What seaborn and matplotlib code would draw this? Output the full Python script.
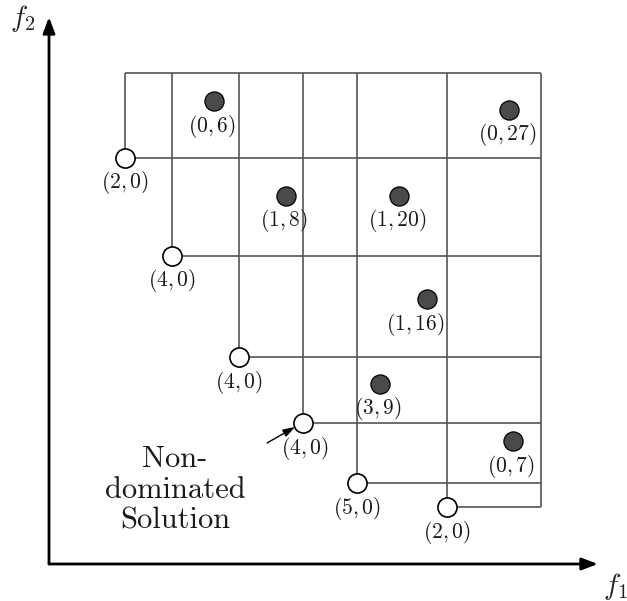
import matplotlib
matplotlib.use('Agg')
import matplotlib.pyplot as plt
import seaborn as sns
import pandas as pd

# Non-dominated solutions (open circles), positions in f1/f2 plot units
nd_f1 = [76, 123, 190, 254, 308, 398]
nd_f2 = [406, 308, 207, 141, 81, 57]
nd_labels = ['(2,0)', '(4,0)', '(4,0)', '(4,0)', '(5,0)', '(2,0)']

# Dominated solutions (filled circles)
d_f1 = [165, 237, 350, 460, 378, 331, 464]
d_f2 = [463, 368, 368, 454, 265, 180, 123]
d_labels = ['(0,6)', '(1,8)', '(1,20)', '(0,27)', '(1,16)', '(3,9)', '(0,7)']

# outer bounds of the dominance grid
grid_top = 491
grid_right = 492

sns.set_theme(style='white')
plt.rcParams['mathtext.fontset'] = 'cm'
plt.rcParams['font.family'] = ['cmr10', 'DejaVu Serif']
plt.rcParams['axes.unicode_minus'] = False

fig = plt.figure(figsize=(6.27, 6.01), dpi=100)
ax = fig.add_axes([0, 0, 1, 1])
ax.set_xlim(-49, 578)
ax.set_ylim(-37, 564)
ax.axis('off')

nd = pd.DataFrame({'f1': nd_f1, 'f2': nd_f2, 'label': nd_labels})
dom = pd.DataFrame({'f1': d_f1, 'f2': d_f2, 'label': d_labels})

grey = '#555555'
# dominance lines from each non-dominated point
ax.vlines(nd.f1, nd.f2, grid_top, color=grey, lw=1.2, zorder=1)
ax.hlines(nd.f2, nd.f1, grid_right, color=grey, lw=1.2, zorder=1)
ax.hlines(grid_top, nd.f1.iloc[0], grid_right, color=grey, lw=1.2, zorder=1)
ax.vlines(grid_right, nd.f2.iloc[-1], grid_top, color=grey, lw=1.2, zorder=1)

sns.scatterplot(data=nd, x='f1', y='f2', ax=ax, s=190, color='white',
                edgecolor='black', linewidth=1.2, zorder=3, legend=False)
sns.scatterplot(data=dom, x='f1', y='f2', ax=ax, s=190, color='#4a4a4a',
                edgecolor='black', linewidth=0.9, zorder=3, legend=False)

nudge = {4: -12}
for i, r in dom.iterrows():
    ax.text(r.f1 + nudge.get(i, -2), r.f2 - 25, '$' + r.label + '$',
            ha='center', va='center', fontsize=15.5, color='#1a1a1a')
for i, r in nd.iterrows():
    ax.text(r.f1 + (2 if i == 3 else 0), r.f2 - 25, '$' + r.label + '$',
            ha='center', va='center', fontsize=15.5, color='#1a1a1a')

# axes with arrow heads
ax.annotate('', xy=(549, 0), xytext=(0, 0),
            arrowprops=dict(arrowstyle='-|>,head_length=0.8,head_width=0.3',
                            color='black', lw=2, shrinkA=0, shrinkB=0))
ax.annotate('', xy=(0, 547), xytext=(0, 0),
            arrowprops=dict(arrowstyle='-|>,head_length=0.8,head_width=0.3',
                            color='black', lw=2, shrinkA=0, shrinkB=0))
ax.text(566, -23, '$f_1$', fontsize=21, ha='center', va='center')
ax.text(-26, 546, '$f_2$', fontsize=21, ha='center', va='center')

# pointer to a non-dominated solution
ax.annotate('', xy=(246, 137), xytext=(218, 121),
            arrowprops=dict(arrowstyle='-|>,head_length=0.6,head_width=0.2',
                            color='black', lw=1, shrinkA=0, shrinkB=0))
ax.text(126, 74, 'Non-\ndominated\nSolution', fontsize=22,
        ha='center', va='center', linespacing=1.16, color='#1a1a1a')

fig.savefig('out.png', dpi=100)
